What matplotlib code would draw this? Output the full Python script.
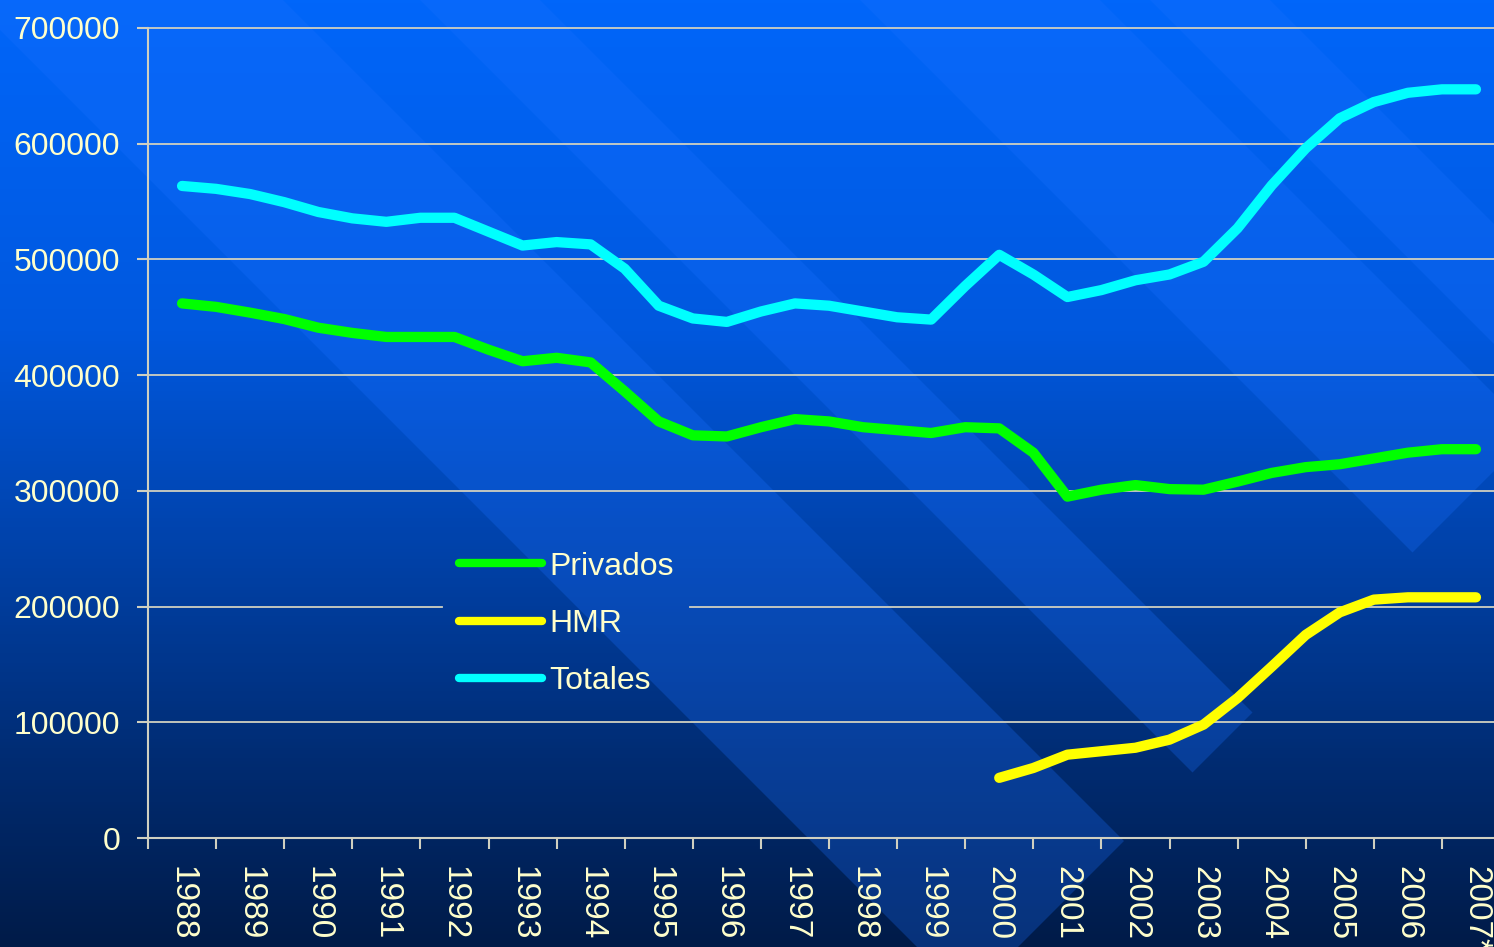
import matplotlib
matplotlib.use("Agg")
import matplotlib.pyplot as plt
from matplotlib.patches import Polygon
import numpy as np

years = ["1988", "1989", "1990", "1991", "1992", "1993", "1994", "1995", "1996", "1997",
         "1998", "1999", "2000", "2001", "2002", "2003", "2004", "2005", "2006", "2007*"]

# half-year readings, first point at 1988
totales = [563500, 561000, 556500, 549500, 541000, 535500, 532500, 536000, 536000, 524000,
           512000, 515000, 513000, 492000, 460000, 449000, 446000, 455000, 462000, 460000,
           455000, 450000, 448000, 477000, 504000, 487000, 467500, 473500, 482000, 487000,
           498000, 527000, 564000, 596000, 622000, 636000, 644000, 647000, 647000]
privados = [462000, 459000, 454000, 448500, 441000, 436500, 433000, 433000, 433000, 422000,
            412000, 415000, 411000, 386000, 360000, 348000, 347000, 355000, 362000, 360000,
            355000, 352500, 350000, 355000, 354000, 333000, 295000, 301000, 305000, 301500,
            301000, 308000, 315500, 320500, 323000, 328000, 333000, 336000, 336000]
# HMR starts in 2000
hmr = [52000, 60500, 72000, 75000, 78000, 85000, 98000, 121000, 148000, 175500,
       195000, 206000, 208000, 208000, 208000]
hmr_start = "2000"

yticks = [0, 100000, 200000, 300000, 400000, 500000, 600000, 700000]

txt_color = "#FFFFCC"
grid_color = "#D0D0C0"
W, H = 1494, 947

plt.rcParams["font.family"] = ["Liberation Sans", "DejaVu Sans"]
fig = plt.figure(figsize=(W / 100, H / 100), dpi=100)

# background: vertical gradient + diagonal light bands
bg = fig.add_axes([0, 0, 1, 1])
stops = np.array([0.0, 0.35, 0.6, 0.8, 1.0])
reds = [0, 0, 0, 0, 0]
greens = [102, 88, 64, 44, 27]
blues = [250, 222, 165, 115, 72]
t = np.linspace(0, 1, 300)
grad = np.stack([np.interp(t, stops, reds), np.interp(t, stops, greens),
                 np.interp(t, stops, blues)], axis=1) / 255.0
bg.imshow(grad[:, None, :], extent=[0, W, H, 0], aspect="auto", zorder=0)
for d1, d2 in [(-30, 283), (420, 540), (860, 1100), (1150, 1270)]:
    cap = 1965
    pts = [(d1 - 60, -60), (d2 - 60, -60), ((cap + d2) / 2, (cap - d2) / 2),
           ((cap + d1) / 2, (cap - d1) / 2)]
    bg.add_patch(Polygon(pts, closed=True, facecolor="#1A70FF", alpha=0.28,
                         edgecolor="none", zorder=1))
bg.set_xlim(0, W)
bg.set_ylim(H, 0)
bg.axis("off")

ax = fig.add_axes([148 / W, 1 - 838 / H, (1510 - 148) / W, (838 - 28) / H])
ax.set_facecolor("none")

x_full = np.arange(len(totales)) * 0.5
x_hmr = years.index(hmr_start) + np.arange(len(hmr)) * 0.5

lw = 7.4
l_priv, = ax.plot(x_full, privados, color="#00FF00", lw=lw, solid_capstyle="round",
                  solid_joinstyle="round", label="Privados", zorder=3)
l_hmr, = ax.plot(x_hmr, hmr, color="#FFFF00", lw=lw, solid_capstyle="round",
                 solid_joinstyle="round", label="HMR", zorder=3)
l_tot, = ax.plot(x_full, totales, color="#00FFFF", lw=lw, solid_capstyle="round",
                 solid_joinstyle="round", label="Totales", zorder=3)

ax.set_xlim(-0.5, len(years) - 0.5)
ax.set_ylim(0, 700000)

ax.set_xticks(np.arange(len(years) + 1) - 0.5)
ax.set_xticklabels([])
ax.set_xticks(np.arange(len(years)), minor=True)
ax.set_xticklabels(years, minor=True, rotation=270, fontsize=24, color=txt_color,
                   ha="center", va="top")
ax.tick_params(axis="x", which="major", length=8, width=1.5, color=grid_color, direction="out")
ax.tick_params(axis="x", which="minor", length=0, pad=20)

ax.set_yticks(yticks)
ax.set_yticklabels([str(v) for v in yticks], fontsize=23, color=txt_color)
ax.tick_params(axis="y", length=8, width=1.5, color=grid_color, pad=12)

for s in ["top", "right"]:
    ax.spines[s].set_visible(False)
for s in ["left", "bottom"]:
    ax.spines[s].set_color(grid_color)
    ax.spines[s].set_linewidth(1.5)

leg = ax.legend(handles=[l_priv, l_hmr, l_tot], loc="upper left",
                bbox_to_anchor=((433 - 148) / (1510 - 148), (838 - 526) / (838 - 28)),
                frameon=False, fontsize=23, labelcolor=txt_color, handlelength=2.6,
                handletextpad=0.25, labelspacing=0.85, borderpad=0.3)
for h in leg.legend_handles:
    h.set_linewidth(6.0)

# gridlines, broken behind the legend box
fig.canvas.draw()
lb = leg.get_window_extent().transformed(ax.transAxes.inverted())
for v in yticks[1:]:
    frac = v / 700000
    if lb.y0 < frac < lb.y1:
        ax.axhline(v, xmin=0, xmax=lb.x0 - 0.005, color=grid_color, lw=1.3, zorder=1, clip_on=False)
        ax.axhline(v, xmin=lb.x1 + 0.005, xmax=1, color=grid_color, lw=1.3, zorder=1, clip_on=False)
    else:
        ax.axhline(v, color=grid_color, lw=1.3, zorder=1, clip_on=False)

fig.savefig("out.png", dpi=100)
